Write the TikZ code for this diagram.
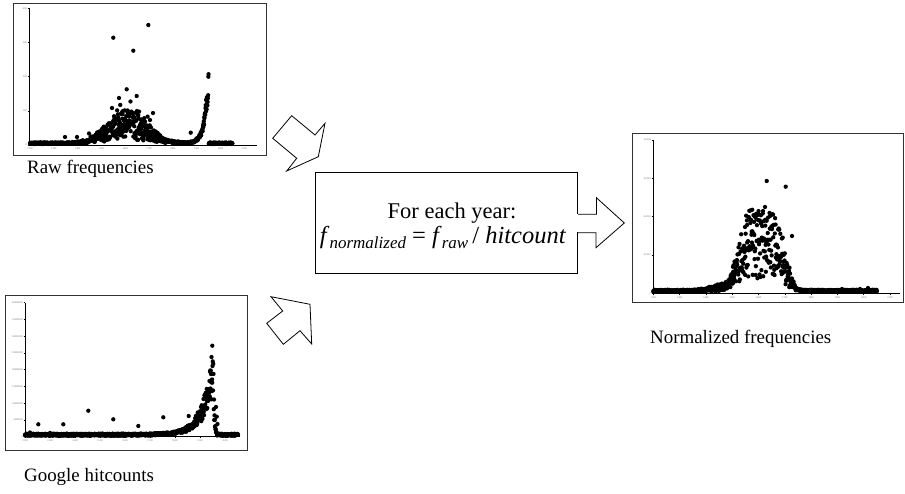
\documentclass[tikz,border=0pt]{standalone}
\usepackage{fontspec}
\setmainfont{Liberation Serif}[ItalicFont={Liberation Serif Italic}]
\tikzset{
  frame/.style={draw=black!80, line width=0.9pt, fill=white, inner sep=0, anchor=north west},
  axisline/.style={draw=black, line width=0.6pt},
  ticklbl/.style={font=\fontsize{2.6}{3}\selectfont, text=black!55, inner sep=0.4pt},
  lbl/.style={font=\fontsize{18.9}{21}\selectfont, anchor=base west, inner sep=0},
  boxtxt/.style={font=\fontsize{22.5}{25}\selectfont, anchor=base, inner sep=0},
  blockarrow/.style={draw=black, line width=0.8pt, fill=white, line join=miter},
}
\newcommand{\subtxt}[1]{\raisebox{-5pt}{\fontsize{17}{17}\selectfont\itshape #1}}
\newcommand{\dotr}{2.15}
\begin{document}
\begin{tikzpicture}[x=1pt,y=-1pt]
\useasboundingbox (0,0) rectangle (905,494);
\fill[white] (0,0) rectangle (905,494);

% ---------------- Raw frequencies plot ----------------
\node[frame, minimum width=253pt, minimum height=152pt] (raw) at (13,3) {};
\draw[axisline] (29.3,8.3) -- (29.3,145) -- (256.7,145);
\foreach \v [count=\k from 0] in {0,100,200,300,400}{
  \draw[axisline] (27.8,145-34.18*\k) -- (29.3,145-34.18*\k);
  \node[ticklbl, anchor=east] at (27.5,145-34.18*\k) {\v};
}
\foreach \v [count=\k from 0] in {1200,1300,1400,1500,1600,1700,1800,1900,2000,2100}{
  \draw[axisline] (30+23.81*\k,145) -- (30+23.81*\k,146.5);
  \node[ticklbl, anchor=north] at (30+23.81*\k,147.5) {\v};
}
\pgfmathsetseed{11}
\foreach \yr in {1200,...,2050}{
  \pgfmathsetmacro\ua{(\yr-1608)/112}
  \pgfmathsetmacro\ga{exp(-min(9,\ua*\ua))}
  \pgfmathsetmacro\ta{(\yr<1951)*72*exp(max(-9,min(0,(\yr-1950)/17)))}
  \pgfmathsetmacro\ha{1+1.5*rnd + \ga*(3+30*rnd+22*rnd*rnd*rnd) + \ta*(0.7+0.4*rnd)}
  \fill (30+\yr*0.2381-285.72, 145-\ha) circle (\dotr);
}
\foreach \p in {(113.3,37.7),(133.3,50.7),(148.3,25),(65,137),(77,137),(89,133.5),(190.7,132.7),(126.7,89.3),(119,98),(136.7,96),(118,120),(112,108),(153,113),(150,120)}{
  \fill \p circle (\dotr);
}

% ---------------- Google hitcounts plot ----------------
\node[frame, minimum width=242pt, minimum height=155pt] (google) at (5,295) {};
\draw[axisline] (25,302.7) -- (25,436.7) -- (240,436.7);
\foreach \v [count=\k from 0] in {0,5000000,10000000,15000000,20000000,25000000,30000000,35000000,40000000}{
  \draw[axisline] (23.5,436.7-16.75*\k) -- (25,436.7-16.75*\k);
  \node[ticklbl, anchor=east] at (23.2,436.7-16.75*\k) {\v};
}
\foreach \v [count=\k from 0] in {1200,1300,1400,1500,1600,1700,1800,1900,2000}{
  \draw[axisline] (25+25*\k,436.7) -- (25+25*\k,438.2);
  \node[ticklbl, anchor=north] at (25+25*\k,439.2) {\v};
}
\pgfmathsetseed{5}
\foreach \yr in {1200,...,2052}{
  \pgfmathsetmacro\tb{(\yr<1955)*80*exp(max(-9,min(0,(\yr-1952)/45)))}
  \pgfmathsetmacro\db{(\yr>1954)*(\yr<1968)*40*exp(-max(0,min(9,(\yr-1955)/3.5)))}
  \pgfmathsetmacro\hb{1+2*rnd + \tb*(0.5+0.55*rnd) + \db*(0.4+0.8*rnd)}
  \fill (25+\yr*0.25-300, 436.7-\hb) circle (\dotr);
}
\foreach \p in {(38.3,424.3),(63.3,424.3),(88.3,410.7),(113.3,419.3),(138.3,426),(163.3,417.3),(188.7,416),(212.3,345.7),(211.5,357),(50,433),(30,432.5),(216,407),(216.7,416.7),(217.5,424)}{
  \fill \p circle (\dotr);
}

% ---------------- Normalized frequencies plot ----------------
\node[frame, minimum width=271pt, minimum height=169pt] (norm) at (632,133) {};
\draw[axisline] (653.3,140) -- (653.3,293.3) -- (900,293.3);
\foreach \v [count=\k from 0] in {0,0.0001,0.0002,0.0003,0.0004}{
  \draw[axisline] (651.8,293.3-38.33*\k) -- (653.3,293.3-38.33*\k);
  \node[ticklbl, anchor=east] at (651.5,293.3-38.33*\k) {\v};
}
\foreach \v [count=\k from 0] in {1200,1300,1400,1500,1600,1700,1800,1900,2000,2100}{
  \draw[axisline] (653.3+26.3*\k,293.3) -- (653.3+26.3*\k,294.8);
  \node[ticklbl, anchor=north] at (653.3+26.3*\k,295.8) {\v};
}
\pgfmathsetseed{23}
\foreach \yr in {1200,...,2050}{
  \pgfmathsetmacro\uc{(\yr-1612)/100}
  \pgfmathsetmacro\gc{exp(-min(9,\uc*\uc*\uc*\uc))}
  \pgfmathsetmacro\vc{(\yr-1470)/70}
  \pgfmathsetmacro\pc{exp(-min(9,\vc*\vc))}
  \pgfmathsetmacro\hc{1.5+2*rnd + \pc*7*rnd + \gc*64*(0.2+1.1*rnd)}
  \fill (653.3+\yr*0.263-315.6, 293.3-\hc) circle (\dotr);
}
\foreach \p in {(766.7,181),(785.7,186.7),(765,207),(745,227),(747,225),(792,236),(860,289),(868,288),(842,289),(772,228),(758,214)}{
  \fill \p circle (\dotr);
}

% ---------------- labels ----------------
\node[lbl] (rawlbl) at (27,174) {Raw frequencies};
\node[lbl] (googlelbl) at (24,481.5) {Google hitcounts};
\node[lbl] (normlbl) at (650,344) {Normalized frequencies};

% ---------------- block arrows into the box ----------------
\draw[blockarrow] (272.7,138.3) -- (291.7,115.7) -- (315,135) -- (325,123.3) -- (318.3,156.7) -- (286.7,171) -- (296.7,158.3) -- cycle;
\draw[blockarrow] (271,296.7) -- (310,304.3) -- (311.7,344) -- (300,330.7) -- (283.3,344.3) -- (266.7,323.3) -- (282.7,311) -- cycle;

% ---------------- formula box with outgoing arrow ----------------
\node[draw=black, line width=0.8pt, fill=white, minimum width=262.7pt, minimum height=100.6pt, inner sep=0] (calc) at (446.35,223) {};
\fill[white] (calc.east) ++(-1,-9.2) rectangle ++(2,18.4);
\draw[line width=0.8pt, line join=miter] (calc.east) ++(0,-8.7) -- ++(18.3,0) -- ++(0,-16.6) -- (624.3,223) -- (596,247.7) -- (596,232.7) -- (calc.east |- 0,232.7);
\node[boxtxt] (line1) at (452,218.3) {For each year:};
\node[boxtxt, font=\fontsize{24.5}{25}\selectfont] (line2) at (443,243.3) {\textit{f}\subtxt{normalized} = \textit{f}\subtxt{raw}\,/ \textit{hitcount}};
\end{tikzpicture}
\end{document}
